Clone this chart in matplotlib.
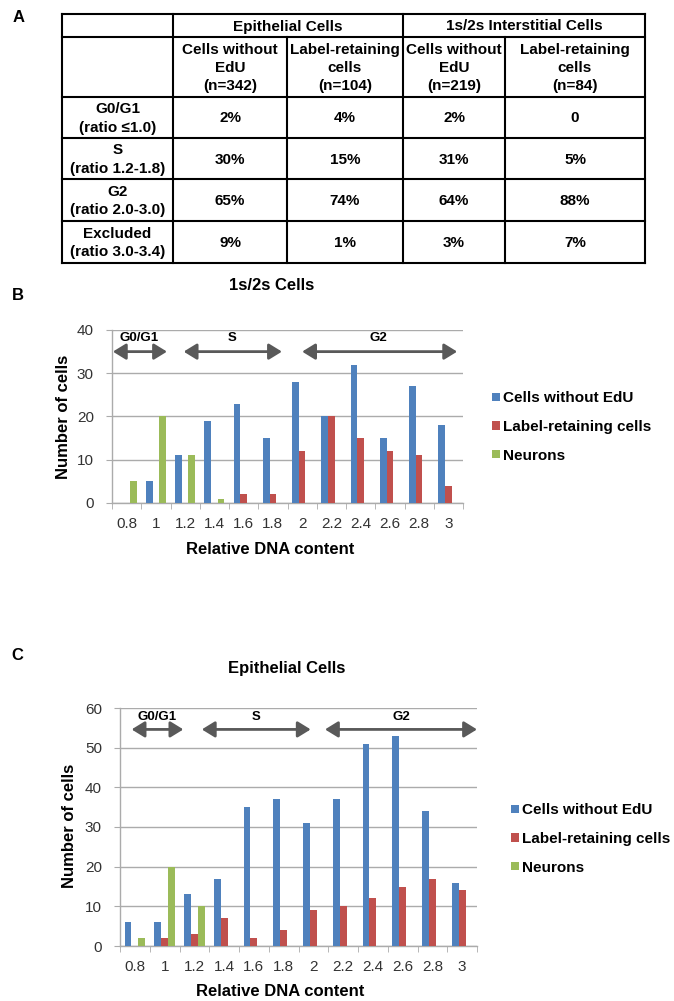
import matplotlib
matplotlib.use('Agg')
import matplotlib.pyplot as plt
import numpy as np

plt.rcParams['font.family'] = ['Liberation Sans', 'DejaVu Sans']

W, H = 674, 1001

# ---- panel A table ----
col_groups = ['Epithelial Cells', '1s/2s Interstitial Cells']
col_heads = ['Cells without\nEdU\n(n=342)', 'Label-retaining\ncells\n(n=104)',
             'Cells without\nEdU\n(n=219)', 'Label-retaining\ncells\n(n=84)']
row_heads = ['G0/G1\n(ratio \u22641.0)', 'S\n(ratio 1.2-1.8)',
             'G2\n(ratio 2.0-3.0)', 'Excluded\n(ratio 3.0-3.4)']
table_vals = [['2%', '4%', '2%', '0'],
              ['30%', '15%', '31%', '5%'],
              ['65%', '74%', '64%', '88%'],
              ['9%', '1%', '3%', '7%']]

# ---- panels B and C histograms ----
dna = ['0.8', '1', '1.2', '1.4', '1.6', '1.8', '2', '2.2', '2.4', '2.6', '2.8', '3']
series_names = ['Cells without EdU', 'Label-retaining cells', 'Neurons']

b_without = [0, 5, 11, 19, 23, 15, 28, 20, 32, 15, 27, 18]
b_label = [0, 0, 0, 0, 2, 2, 12, 20, 15, 12, 11, 4]
b_neurons = [5, 20, 11, 1, 0, 0, 0, 0, 0, 0, 0, 0]

c_without = [6, 6, 13, 17, 35, 37, 31, 37, 51, 53, 34, 16]
c_label = [0, 2, 3, 7, 2, 4, 9, 10, 12, 15, 17, 14]
c_neurons = [2, 20, 10, 0, 0, 0, 0, 0, 0, 0, 0, 0]

colors = ['#4F81BD', '#C0504D', '#9BBB59']
grid_col = '#ababab'
tick_col = '#333333'
arrow_col = '#595959'

fig = plt.figure(figsize=(W / 100, H / 100), dpi=100)

# overlay in pixel coordinates for the table and free text
ov = fig.add_axes([0, 0, 1, 1])
ov.set_xlim(0, W)
ov.set_ylim(H, 0)
ov.axis('off')

# table grid
rows_y = [14, 37, 97, 138, 179, 221, 263]
cols_x = [62, 173, 287, 403, 505, 645]
lw_t = 1.5
for y in rows_y:
    ov.plot([cols_x[0], cols_x[-1]], [y, y], color='black', lw=lw_t, solid_capstyle='projecting')
for i, x in enumerate(cols_x):
    y0 = rows_y[1] if i in (2, 4) else rows_y[0]
    ov.plot([x, x], [y0, rows_y[-1]], color='black', lw=lw_t, solid_capstyle='projecting')

tkw = dict(ha='center', va='center', fontsize=11, fontweight='bold', linespacing=1.4)
ov.text((cols_x[1] + cols_x[3]) / 2, (rows_y[0] + rows_y[1]) / 2 + 1, col_groups[0], **tkw)
ov.text((cols_x[3] + cols_x[5]) / 2, (rows_y[0] + rows_y[1]) / 2 + 1, col_groups[1], **tkw)
for j, h in enumerate(col_heads):
    ov.text((cols_x[j + 1] + cols_x[j + 2]) / 2, (rows_y[1] + rows_y[2]) / 2 + 1, h, **tkw)
for i, r in enumerate(row_heads):
    yc = (rows_y[i + 2] + rows_y[i + 3]) / 2 + 1
    ov.text((cols_x[0] + cols_x[1]) / 2, yc, r, **tkw)
    for j, v in enumerate(table_vals[i]):
        ov.text((cols_x[j + 1] + cols_x[j + 2]) / 2, yc, v, **tkw)

# panel letters
for letter, (x, y) in zip('ABC', [(19, 18), (18, 296), (17, 656)]):
    ov.text(x, y, letter, ha='center', va='center', fontsize=12, fontweight='bold')


def px_axes(x0, y0, x1, y1):
    return fig.add_axes([x0 / W, 1 - y1 / H, (x1 - x0) / W, (y1 - y0) / H])


def bar_chart(box, vals, ymax, phases, legend_xy):
    ax = px_axes(*box)
    x = np.arange(len(dna))
    w = 0.23
    bars = []
    for k, (v, c) in enumerate(zip(vals, colors)):
        bars.append(ax.bar(x + (k - 1) * w, v, w, color=c, zorder=3))
    ax.set_xlim(-0.5, len(dna) - 0.5)
    ax.set_ylim(0, ymax)
    ax.set_yticks(range(0, ymax + 1, 10))
    ax.grid(axis='y', color=grid_col, lw=1)
    ax.set_axisbelow(True)
    for s in ['top', 'right']:
        ax.spines[s].set_visible(False)
    for s in ['left', 'bottom']:
        ax.spines[s].set_color(grid_col)
        ax.spines[s].set_linewidth(1)
    ax.set_xticks(x)
    ax.set_xticklabels(dna)
    ax.set_xticks(np.arange(-0.5, len(dna)), minor=True)
    ax.tick_params(axis='x', which='major', length=0, pad=10, labelsize=11, labelcolor=tick_col)
    ax.tick_params(axis='x', which='minor', length=4, color=grid_col)
    ax.tick_params(axis='y', length=4, pad=9, labelsize=11, labelcolor=tick_col, color=grid_col)

    for name, x0, x1, ya, xt, yt in phases:
        ax.annotate('', xy=(x1, ya), xytext=(x0, ya),
                    arrowprops=dict(arrowstyle='<|-|>,head_length=0.65,head_width=0.4',
                                    color=arrow_col, lw=2, shrinkA=0, shrinkB=0,
                                    mutation_scale=12),
                    annotation_clip=False)
        ax.text(xt, yt, name, ha='center', va='center', fontsize=9.5, fontweight='bold')

    ax.legend(bars, series_names, loc='center left',
              bbox_to_anchor=(legend_xy[0] / W, 1 - legend_xy[1] / H),
              bbox_transform=fig.transFigure, frameon=False,
              prop=dict(weight='bold', size=11), handlelength=0.5, handleheight=0.5,
              handletextpad=0.2, labelspacing=0.95, borderpad=0, borderaxespad=0)
    return ax


bar_chart((112, 330, 463, 503), [b_without, b_label, b_neurons], 40,
          [('G0/G1', -0.47, 1.38, 35.0, 0.41, 38.1),
           ('S', 1.95, 5.31, 35.0, 3.6, 38.1),
           ('G2', 6.0, 11.3, 35.0, 8.62, 38.1)],
          (492, 427))
ov.text(272, 286, '1s/2s Cells', ha='center', va='center', fontsize=12, fontweight='bold')
ov.text(64, 417, 'Number of cells', ha='center', va='center', rotation=90, fontsize=12, fontweight='bold')
ov.text(270, 550, 'Relative DNA content', ha='center', va='center', fontsize=12, fontweight='bold')

bar_chart((120, 708, 477, 946), [c_without, c_label, c_neurons], 60,
          [('G0/G1', -0.11, 1.63, 54.6, 0.73, 57.7),
           ('S', 2.25, 5.91, 54.6, 4.07, 57.7),
           ('G2', 6.39, 11.5, 54.6, 8.97, 57.7)],
          (511, 839))
ov.text(287, 668, 'Epithelial Cells', ha='center', va='center', fontsize=12, fontweight='bold')
ov.text(70, 826, 'Number of cells', ha='center', va='center', rotation=90, fontsize=12, fontweight='bold')
ov.text(280, 992, 'Relative DNA content', ha='center', va='center', fontsize=12, fontweight='bold')

fig.savefig('out.png', dpi=100)
